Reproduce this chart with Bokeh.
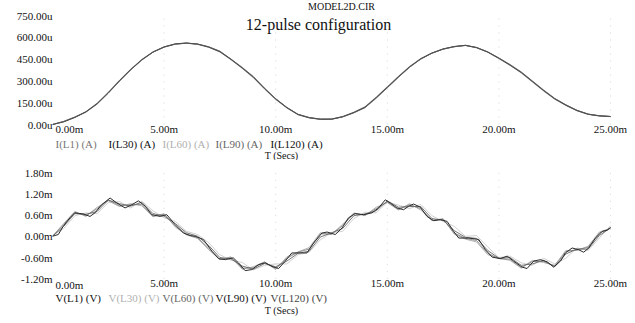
from bokeh.plotting import figure
from bokeh.layouts import column
from bokeh.models import FixedTicker, CustomJSTickFormatter, Label, Range1d
from bokeh.embed import file_html
from bokeh.resources import INLINE

# ---------------- data ----------------
x_ticks = [0, 5, 10, 15, 20, 25]
top_y_ticks = [0, 150, 300, 450, 600, 750]
bot_y_ticks = [-1.2, -0.6, 0.0, 0.6, 1.2, 1.8]

t_grid = [0.0, 0.5, 1.0, 1.5, 2.0, 2.5, 3.0, 3.5, 4.0, 4.5,
          5.0, 5.5, 6.0, 6.5, 7.0, 7.5, 8.0, 8.5, 9.0, 9.5,
          10.0, 10.5, 11.0, 11.5, 12.0, 12.5, 13.0, 13.5, 14.0, 14.5,
          15.0, 15.5, 16.0, 16.5, 17.0, 17.5, 18.0, 18.5, 19.0, 19.5,
          20.0, 20.5, 21.0, 21.5, 22.0, 22.5, 23.0, 23.5, 24.0, 24.5,
          25.0]

# currents (uA)
I_L1 = [0, 20, 50, 85, 140, 215, 298, 375, 443, 497,
        532, 553, 560, 554, 535, 505, 450, 393, 330, 250,
        178, 118, 70, 48, 37, 36, 52, 80, 115, 180,
        252, 325, 394, 450, 490, 518, 535, 544, 530, 500,
        458, 413, 362, 300, 238, 180, 136, 98, 72, 60,
        55]
I_L30 = [0, 18, 48, 88, 145, 220, 302, 378, 446, 499,
         534, 555, 561, 553, 532, 500, 447, 388, 324, 246,
         174, 115, 68, 46, 36, 37, 54, 83, 120, 186,
         258, 330, 398, 453, 492, 520, 537, 545, 529, 498,
         455, 408, 357, 295, 233, 176, 132, 95, 70, 59,
         55]
I_L60 = [0, 22, 53, 90, 148, 224, 306, 382, 449, 501,
         535, 554, 559, 551, 530, 498, 444, 385, 320, 242,
         170, 112, 66, 45, 35, 38, 56, 86, 124, 190,
         262, 334, 401, 455, 493, 520, 536, 544, 527, 496,
         452, 405, 353, 291, 229, 173, 130, 93, 69, 58,
         54]
I_L90 = [0, 19, 49, 86, 142, 217, 300, 377, 445, 498,
         533, 554, 560, 553, 533, 502, 448, 390, 327, 248,
         176, 116, 69, 47, 36, 36, 53, 81, 117, 183,
         255, 327, 396, 451, 491, 519, 536, 545, 530, 499,
         457, 411, 360, 298, 236, 178, 134, 97, 71, 60,
         55]
I_L120 = [0, 21, 51, 87, 143, 218, 299, 376, 444, 498,
          533, 553, 559, 553, 534, 503, 449, 391, 328, 249,
          177, 117, 70, 48, 37, 37, 53, 82, 118, 183,
          254, 326, 395, 451, 491, 519, 535, 544, 529, 499,
          456, 410, 359, 297, 235, 178, 135, 97, 71, 60,
          55]

# voltages (mV)
t_v1 = [0.0, 0.26, 0.48, 0.78, 1.0, 1.38, 1.68, 1.9, 2.2, 2.58,
        2.88, 3.25, 3.55, 3.85, 4.15, 4.45, 4.82, 5.12, 5.49, 5.87,
        6.17, 6.39, 6.76, 7.14, 7.44, 7.74, 8.1, 8.33, 8.63, 8.93,
        9.23, 9.53, 9.83, 10.13, 10.43, 10.72, 11.1, 11.4, 11.7, 12.07,
        12.3, 12.67, 12.97, 13.26, 13.56, 13.94, 14.31, 14.61, 14.91, 15.13,
        15.43, 15.73, 15.96, 16.18, 16.48, 16.78, 17.08, 17.38, 17.68, 17.97,
        18.2, 18.65, 19.1, 19.4, 19.7, 20.07, 20.37, 20.66, 21.04, 21.26,
        21.56, 21.86, 22.16, 22.45, 22.76, 22.98, 23.28, 23.57, 23.8, 24.02,
        24.33, 24.63, 24.85, 25.0]
V_L1 = [0.0, 0.05, 0.28, 0.52, 0.66, 0.63, 0.56, 0.66, 0.89, 1.08,
        0.94, 0.80, 0.89, 1.00, 0.85, 0.61, 0.56, 0.61, 0.33, 0.09,
        0.02, 0.00, -0.09, -0.42, -0.63, -0.66, -0.61, -0.75, -0.97, -0.94,
        -0.80, -0.75, -0.85, -0.91, -0.70, -0.47, -0.47, -0.47, -0.19, 0.09,
        0.12, 0.05, 0.23, 0.52, 0.64, 0.61, 0.66, 0.80, 1.03, 0.94,
        0.80, 0.75, 0.85, 0.91, 0.82, 0.56, 0.44, 0.47, 0.42, 0.14,
        -0.05, -0.05, -0.09, -0.38, -0.59, -0.63, -0.56, -0.70, -0.87, -0.91,
        -0.70, -0.66, -0.72, -0.87, -0.70, -0.47, -0.33, -0.38, -0.45, -0.33,
        -0.05, 0.14, 0.17, 0.25]
V_L30 = [0.02, 0.22, 0.58, 0.66, 0.64, 0.95, 0.98, 0.80, 0.99, 0.72,
         0.52, 0.42, 0.14, 0.05, -0.18, -0.52, -0.68, -0.74, -0.95, -0.82,
         -0.78, -0.78, -0.52, -0.45, -0.10, 0.10, 0.14, 0.50, 0.68, 0.66,
         0.96, 0.88, 0.78, 0.90, 0.58, 0.42, 0.28, 0.00, 0.02, -0.30,
         -0.60, -0.56, -0.75, -0.82, -0.62, -0.78, -0.62, -0.33, -0.40, -0.05,
         0.30]
V_L60 = [0.0, 0.36, 0.70, 0.56, 0.82, 1.00, 0.84, 0.92, 0.86, 0.55,
         0.64, 0.26, 0.04, -0.06, -0.38, -0.66, -0.58, -0.93, -0.86, -0.72,
         -0.94, -0.58, -0.44, -0.32, 0.10, 0.05, 0.34, 0.66, 0.58, 0.82,
         0.95, 0.74, 0.92, 0.74, 0.44, 0.50, 0.06, -0.08, -0.16, -0.52,
         -0.62, -0.68, -0.90, -0.68, -0.74, -0.82, -0.40, -0.40, -0.28, 0.12,
         0.22]
V_L90 = [0.0, 0.28, 0.64, 0.62, 0.70, 1.02, 0.92, 0.85, 0.96, 0.64,
         0.57, 0.36, 0.10, 0.00, -0.26, -0.60, -0.64, -0.84, -0.93, -0.77,
         -0.86, -0.70, -0.48, -0.42, -0.02, 0.10, 0.22, 0.58, 0.63, 0.72,
         1.00, 0.82, 0.84, 0.84, 0.50, 0.45, 0.16, -0.03, -0.06, -0.40,
         -0.62, -0.60, -0.82, -0.78, -0.68, -0.86, -0.50, -0.36, -0.36, 0.02,
         0.24]
V_L120 = [0.0, 0.33, 0.68, 0.58, 0.78, 1.03, 0.86, 0.89, 0.90, 0.57,
          0.62, 0.29, 0.06, -0.04, -0.34, -0.65, -0.60, -0.90, -0.89, -0.73,
          -0.91, -0.62, -0.45, -0.36, 0.07, 0.06, 0.30, 0.64, 0.60, 0.78,
          0.97, 0.76, 0.89, 0.78, 0.45, 0.48, 0.09, -0.06, -0.12, -0.48,
          -0.63, -0.65, -0.88, -0.71, -0.71, -0.84, -0.43, -0.38, -0.31, 0.09,
          0.23]

top_legend = ["I(L1) (A)", "I(L30) (A)", "I(L60) (A)", "I(L90) (A)", "I(L120) (A)"]
bot_legend = ["V(L1) (V)", "V(L30) (V)", "V(L60) (V)", "V(L90) (V)", "V(L120) (V)"]

# ---------------- style / layout ----------------
FONT = "Liberation Serif"
W = 635
LEFT = 52            # pixel where t = 0
RIGHT_T25 = 610      # pixel where t = 25
PX_PER_MS = (RIGHT_T25 - LEFT) / 25.0
X_END = 25 + (W - RIGHT_T25) / PX_PER_MS


def make_fig(height, y_lo, y_hi, py_hi, py_lo, suffix, ticks):
    # y_hi drawn at pixel row py_hi, y_lo at pixel row py_lo (from top)
    k = (py_lo - py_hi) / (y_hi - y_lo)
    r_top = y_hi + py_hi / k
    r_bot = y_lo - (height - py_lo) / k
    p = figure(width=W, height=height, x_range=Range1d(0, X_END),
               y_range=Range1d(r_bot, r_top),
               output_backend="svg", toolbar_location=None,
               min_border_left=LEFT, min_border_right=0,
               min_border_top=0, min_border_bottom=0)
    p.outline_line_color = None
    p.background_fill_color = "white"
    p.border_fill_color = "white"
    p.xgrid.grid_line_color = None
    p.ygrid.grid_line_color = None
    for ax in (p.xaxis[0], p.yaxis[0]):
        ax.axis_line_color = None
        ax.major_tick_line_color = None
        ax.minor_tick_line_color = None
        ax.major_tick_out = 0
        ax.major_tick_in = 0
        ax.minor_tick_out = 0
        ax.major_label_text_font = FONT
        ax.major_label_text_font_size = "11px"
        ax.major_label_text_color = "#111111"
    xa = p.xaxis[0]
    xa.ticker = FixedTicker(ticks=x_ticks)
    xa.formatter = CustomJSTickFormatter(
        code="return tick == 0 ? '' : tick.toFixed(2) + 'm';")
    xa.fixed_location = y_lo
    xa.major_label_standoff = -2
    ya = p.yaxis[0]
    ya.ticker = FixedTicker(ticks=ticks)
    ya.formatter = CustomJSTickFormatter(code="return tick.toFixed(2) + '%s';" % suffix)
    ya.major_label_standoff = 0
    # faint dotted vertical grid
    p.segment(x0=x_ticks[1:], y0=[y_lo] * 5, x1=x_ticks[1:], y1=[y_hi] * 5,
              line_color="#d6d6d6", line_dash="1 6", line_width=1)
    return p


top = make_fig(160, top_y_ticks[0], top_y_ticks[-1], 15, 124, "u", top_y_ticks)
top_cols = ["#c8c8c8", "#a0a0a0", "#7a7a7a", "#666666", "#4a4a4a"]
top_series = [I_L60, I_L90, I_L1, I_L120, I_L30]
for ys, c in zip(top_series, top_cols):
    top.line(t_grid, ys, line_color=c, line_width=0.9)

bot = make_fig(163, bot_y_ticks[0], bot_y_ticks[-1], 12, 118.3, "m", bot_y_ticks)
bot.line(t_grid, V_L30, line_color="#cccccc", line_width=0.9)
bot.line(t_grid, V_L60, line_color="#a8a8a8", line_width=0.9)
bot.line(t_grid, V_L120, line_color="#888888", line_width=0.9)
bot.line(t_grid, V_L90, line_color="#666666", line_width=0.9)
bot.line(t_v1, V_L1, line_color="#2a2a2a", line_width=1)


def txt(p, text, xo, yo, y_anchor, size="11px", color="#111111", align="left"):
    p.add_layout(Label(x=0, y=y_anchor, x_offset=xo, y_offset=yo, text=text,
                       text_font=FONT, text_font_size=size, text_color=color,
                       text_align=align, text_baseline="middle"))


# zero tick labels (left aligned as in the reference)
txt(top, "0.00m", 3, -4, top_y_ticks[0])
txt(bot, "0.00m", 3, -6, bot_y_ticks[0])

# titles
txt(top, "MODEL2D.CIR", 289, 9, top_y_ticks[-1], size="10px", align="center")
txt(top, "12-pulse configuration", 266, -9, top_y_ticks[-1], size="16px", align="center")

# legend rows
top_leg_cols = ["#777777", "#111111", "#b0b0b0", "#666666", "#111111"]
bot_leg_cols = ["#111111", "#b0b0b0", "#666666", "#111111", "#444444"]
leg_x = [3, 56, 110, 163, 218]
for s, c, xo in zip(top_legend, top_leg_cols, leg_x):
    txt(top, s, xo, -19, top_y_ticks[0], size="11px", color=c)
for s, c, xo in zip(bot_legend, bot_leg_cols, leg_x):
    txt(bot, s, xo, -19, bot_y_ticks[0], size="11px", color=c)
txt(top, "T (Secs)", 229, -31, top_y_ticks[0], size="10px", align="center")
txt(bot, "T (Secs)", 229, -32, bot_y_ticks[0], size="10px", align="center")

layout = column(top, bot)
open("out.html", "w").write(file_html(layout, INLINE))
